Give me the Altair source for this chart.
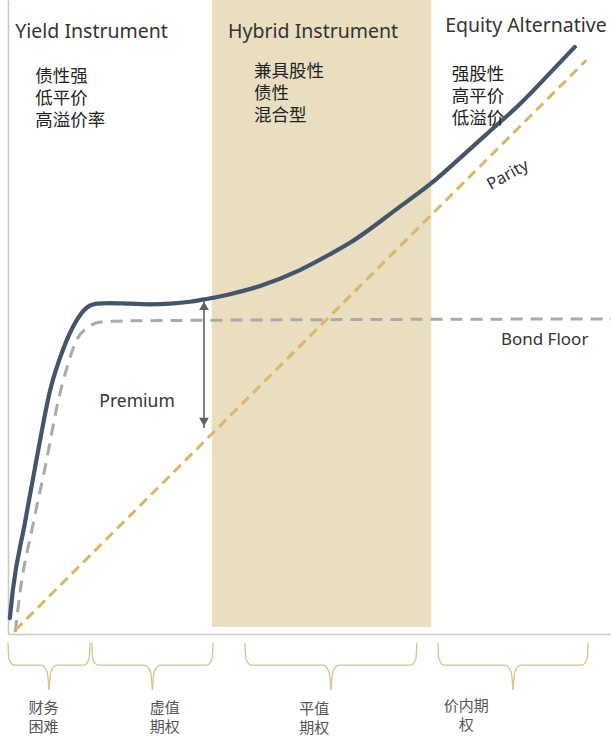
import altair as alt
import pandas as pd

# ---- data (x: underlying stock price index, y: value index) ----
conv_x = [0.3, 0.8, 2.8, 4.8, 7.0, 9.1, 11.4, 13.1, 14.8, 16.9, 20.2, 23.6, 26.9, 30.2,
          32.7, 36.8, 41.8, 48.4, 53.4, 56.7, 65.0, 70.2, 75.0, 79.9, 84.9, 89.9, 94.0]
conv_y = [2.5, 6.9, 17.5, 27.9, 38.5, 44.8, 49.5, 51.5, 52.1, 52.2, 52.1, 52.0, 52.1, 52.4,
          52.8, 53.6, 54.9, 57.4, 59.9, 61.7, 67.4, 71.1, 75.1, 79.3, 83.6, 88.5, 92.6]

floor_x = [1.2, 2.0, 4.2, 6.5, 8.1, 9.8, 11.4, 13.3, 15.3, 20.2, 100.0]
floor_y = [0.3, 6.6, 17.5, 27.9, 35.8, 42.1, 46.4, 48.4, 49.2, 49.4, 49.7]

parity_x = [1.2, 95.9]
parity_y = [0.6, 90.5]

# hybrid zone
zone_x = [33.8, 70.2]
zone_y = [1.1, 100.0]

# premium arrow
premium_x = 32.5
premium_top = 52.7
premium_bottom = 32.5

headers = ["Yield Instrument", "Hybrid Instrument", "Equity Alternative"]
header_x = [1.2, 36.5, 72.5]
header_y = [95.0, 95.0, 95.9]

notes = ["债性强\n低平价\n高溢价率", "兼具股性\n债性\n混合型", "强股性\n高平价\n低溢价"]
note_x = [4.5, 40.8, 73.6]
note_y = [87.9, 88.7, 88.2]

brace_start = [0.0, 13.9, 39.3, 71.3]
brace_end = [13.6, 34.0, 67.8, 96.2]
moneyness = ["财务\n困难", "虚值\n期权", "平值\n期权", "价内期\n权"]
money_x = [5.9, 26.0, 50.8, 76.0]
money_y = [-11.7, -11.7, -11.9, -11.4]

# ---- tables ----
conv_df = pd.DataFrame({"x": conv_x, "y": conv_y})
floor_df = pd.DataFrame({"x": floor_x, "y": floor_y})
parity_df = pd.DataFrame({"x": parity_x, "y": parity_y})
zone_df = pd.DataFrame({"x": [zone_x[0]], "x2": [zone_x[1]], "y": [zone_y[0]], "y2": [zone_y[1]]})
arrow_df = pd.DataFrame({"x": [premium_x], "y": [premium_top], "y2": [premium_bottom]})
head_df = pd.DataFrame({"x": header_x, "y": header_y, "t": headers})
note_df = pd.DataFrame({"x": note_x, "y": note_y, "t": notes})
money_df = pd.DataFrame({"x": money_x, "y": money_y, "t": moneyness})

# curly braces below the axis, each drawn as two halves meeting at a point
Y_TOP, Y_MID, Y_TIP = -1.4, -4.9, -8.8
brace_rows = []
for i, (a, b) in enumerate(zip(brace_start, brace_end)):
    c = (a + b) / 2
    left = [(a, Y_TOP), (a + 0.15, Y_MID + 1.0), (a + 1.0, Y_MID), (c - 1.3, Y_MID),
            (c - 0.3, Y_MID - 1.1), (c, Y_TIP)]
    right = [(c, Y_TIP), (c + 0.3, Y_MID - 1.1), (c + 1.3, Y_MID), (b - 1.0, Y_MID),
             (b - 0.15, Y_MID + 1.0), (b, Y_TOP)]
    for k, pts in enumerate([left, right]):
        for j, (px, py) in enumerate(pts):
            brace_rows.append({"x": px, "y": py, "g": f"{i}-{k}", "o": j})
brace_df = pd.DataFrame(brace_rows)

xs = alt.Scale(domain=[0, 100], nice=False, zero=False)
ys = alt.Scale(domain=[0, 100], nice=False, zero=False)
X = lambda f="x": alt.X(f"{f}:Q", scale=xs, title=None)
Y = lambda f="y": alt.Y(f"{f}:Q", scale=ys, title=None)

LATIN = "Noto Sans"
CJK = "Noto Sans CJK SC"

zone = alt.Chart(zone_df).mark_rect(color="#e9dec0").encode(
    x=X(), x2="x2:Q", y=Y(), y2="y2:Q")

floor = alt.Chart(floor_df).mark_line(
    color="#a9a9a9", strokeWidth=3, strokeDash=[12, 8], interpolate="monotone").encode(x=X(), y=Y())

parity = alt.Chart(parity_df).mark_line(
    color="#d8b866", strokeWidth=3, strokeDash=[10, 6]).encode(x=X(), y=Y())

conv = alt.Chart(conv_df).mark_line(
    color="#44546a", strokeWidth=4.2, interpolate="monotone", strokeCap="round").encode(x=X(), y=Y())

arrow_line = alt.Chart(arrow_df).mark_rule(color="#606060", strokeWidth=1.6).encode(
    x=X(), y=Y(), y2="y2:Q")
arrow_top = alt.Chart(arrow_df).mark_point(
    shape="triangle-up", filled=True, color="#606060", size=95, opacity=1, yOffset=6).encode(x=X(), y=Y())
arrow_bot = alt.Chart(arrow_df).mark_point(
    shape="triangle-down", filled=True, color="#606060", size=95, opacity=1, yOffset=-6).encode(x=X(), y=Y("y2"))

head_text = alt.Chart(head_df).mark_text(
    align="left", baseline="middle", font=LATIN, fontSize=19.5, color="#333333").encode(
    x=X(), y=Y(), text="t:N")

note_text = alt.Chart(note_df).mark_text(
    align="left", baseline="middle", font=CJK, fontSize=17.5, lineHeight=22,
    lineBreak="\n", color="#222222").encode(x=X(), y=Y(), text="t:N")

premium_text = alt.Chart(pd.DataFrame({"x": [21.4], "y": [36.6], "t": ["Premium"]})).mark_text(
    font=LATIN, fontSize=17.5, color="#333333").encode(x=X(), y=Y(), text="t:N")

floor_text = alt.Chart(pd.DataFrame({"x": [89.0], "y": [46.4], "t": ["Bond Floor"]})).mark_text(
    font=LATIN, fontSize=17, color="#333333").encode(x=X(), y=Y(), text="t:N")

parity_text = alt.Chart(pd.DataFrame({"x": [82.9], "y": [72.4], "t": ["Parity"]})).mark_text(
    font=LATIN, fontSize=16.5, color="#333333", angle=331).encode(x=X(), y=Y(), text="t:N")

braces = alt.Chart(brace_df).mark_line(
    color="#d6c28e", strokeWidth=1.3, interpolate="monotone").encode(
    x=X(), y=Y(), detail="g:N", order="o:Q")

money_text = alt.Chart(money_df).mark_text(
    align="center", baseline="middle", font=CJK, fontSize=15, lineHeight=19,
    lineBreak="\n", color="#555555").encode(x=X(), y=Y(), text="t:N")

chart = alt.layer(
    zone, floor, parity, conv, arrow_line, arrow_top, arrow_bot,
    head_text, note_text, premium_text, floor_text, parity_text, braces, money_text
).properties(
    width=603, height=634,
    autosize=alt.AutoSizeParams(type="none"),
    padding={"left": 8, "top": 0, "right": 0, "bottom": 102},
    background="white",
).configure_view(strokeWidth=0).configure_axis(
    domain=True, domainColor="#c8c8c8", domainWidth=1.5,
    ticks=False, labels=False, grid=False, title=None,
)

chart.save("out.html", embed_options={"renderer": "svg", "actions": False})
